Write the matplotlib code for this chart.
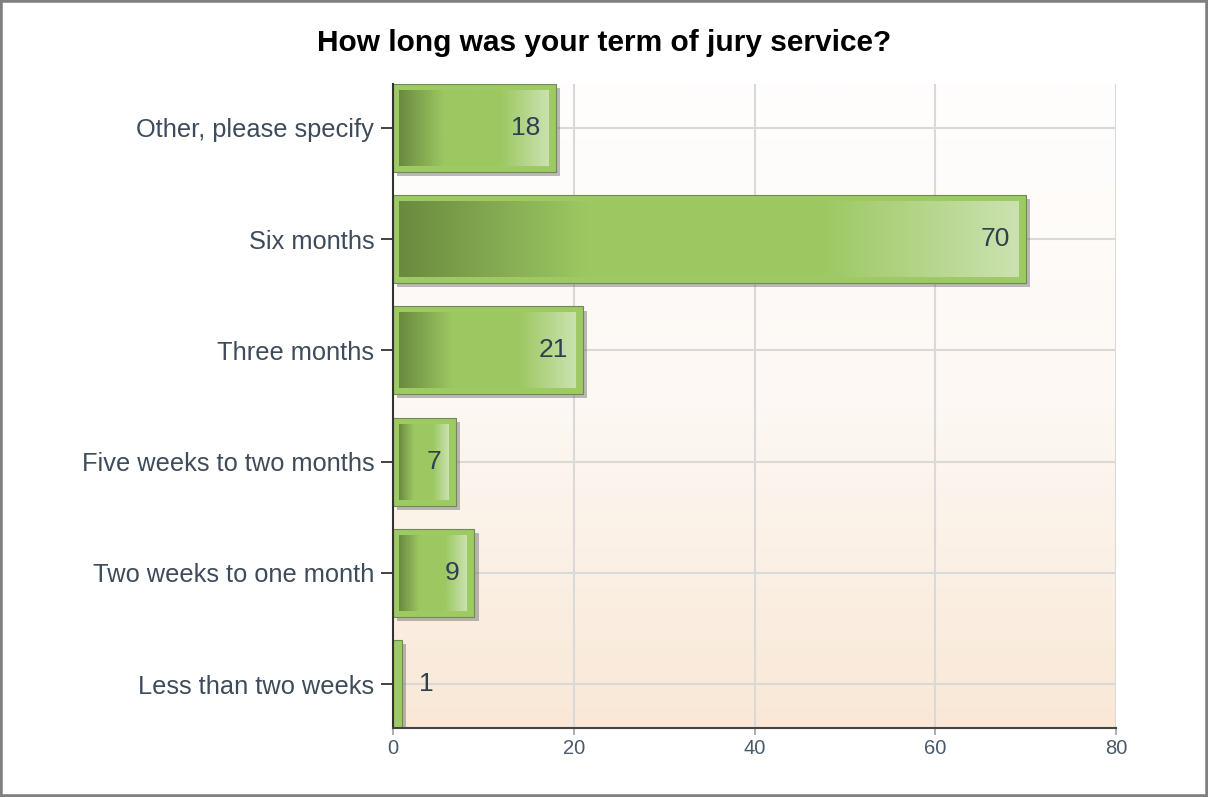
#!/usr/bin/env python3
"""Horizontal bar chart: length of jury service term."""

import matplotlib

matplotlib.use("Agg")
import matplotlib.pyplot as plt
import matplotlib.patheffects as pe
import numpy as np
from matplotlib.colors import LinearSegmentedColormap
from matplotlib.patches import Rectangle

categories = [
    "Less than two weeks",
    "Two weeks to one month",
    "Five weeks to two months",
    "Three months",
    "Six months",
    "Other, please specify",
]
counts = [1, 9, 7, 21, 70, 18]
x_ticks = [0, 20, 40, 60, 80]
title = "How long was your term of jury service?"

W, H, DPI = 1208, 797, 100
plt.rcParams["font.family"] = ["Liberation Sans", "DejaVu Sans"]

fig = plt.figure(figsize=(W / DPI, H / DPI), dpi=DPI)
fig.patch.set_facecolor("white")
L, R, T, B = 393, 1116, 84, 728
ax = fig.add_axes([L / W, 1 - B / H, (R - L) / W, (B - T) / H])

bar_h = 0.79
ypos = np.arange(len(categories))
ax.set_xlim(0, 80)
ax.set_ylim(-bar_h / 2, len(categories) - 1 + bar_h / 2)

# pixel -> data conversions
px_x = 80 / (R - L)
px_y = (len(categories) - 1 + bar_h) / (B - T)

# background gradient (white top -> peach bottom)
bg = LinearSegmentedColormap.from_list("bg", ["#f9e8d6", "#fdf8f3", "#fffefd"])
ax.imshow(np.linspace(0, 1, 256).reshape(-1, 1), cmap=bg, aspect="auto",
          extent=[0, 1, 0, 1], transform=ax.transAxes, origin="lower", zorder=0)

for xv in x_ticks[1:]:
    ax.axvline(xv, color="#d9d9d9", lw=1.5, zorder=1)
for yv in ypos:
    ax.axhline(yv, color="#d9d9d9", lw=1.5, zorder=1)

grad = LinearSegmentedColormap.from_list(
    "bar", [(0, "#6a8a3f"), (0.3, "#9cc862"), (0.68, "#9cc862"), (1, "#cbe2b0")]
)
gvals = np.linspace(0, 1, 256).reshape(1, -1)

for y, v in zip(ypos, counts):
    outer = Rectangle((0, y - bar_h / 2), v, bar_h, facecolor="#9dca63",
                      edgecolor="#6f8a52", lw=0.8, zorder=3)
    outer.set_path_effects([
        pe.SimplePatchShadow(offset=(3, -3), shadow_rgbFace="#777777", alpha=0.5),
        pe.Normal(),
    ])
    ax.add_patch(outer)
    x0, x1 = 6 * px_x, v - 7.5 * px_x
    if x1 - x0 > 4 * px_x:
        ax.imshow(gvals, cmap=grad, aspect="auto", interpolation="bilinear",
                  extent=[x0, x1, y - bar_h / 2 + 6 * px_y, y + bar_h / 2 - 6 * px_y],
                  zorder=4)
    if v / px_x > 40:
        ax.annotate(str(v), (v, y), xytext=(-11, 0), textcoords="offset points",
                    ha="right", va="center", fontsize=19, color="#2f3f4f", zorder=5)
    else:
        ax.annotate(str(v), (v, y), xytext=(12, 0), textcoords="offset points",
                    ha="left", va="center", fontsize=19, color="#2f3f4f", zorder=5)

ax.set_yticks(ypos)
ax.set_yticklabels(categories, fontsize=18.3, color="#3d4b5a")
ax.set_xticks(x_ticks)
ax.set_xticklabels([str(t) for t in x_ticks], fontsize=14.5, color="#4a5a6c")
ax.tick_params(axis="y", length=9, width=1.2, color="#222222", pad=4.5)
ax.tick_params(axis="x", length=5, width=1.2, color="#a0a0a0", pad=3)
for s in ("top", "right"):
    ax.spines[s].set_visible(False)
ax.spines["left"].set_color("#333333")
ax.spines["left"].set_linewidth(1.5)
ax.spines["bottom"].set_color("#444444")
ax.spines["bottom"].set_linewidth(1.5)
ax.spines["left"].set_zorder(6)
ax.spines["bottom"].set_zorder(6)

fig.text(0.5, 1 - 43 / H, title, ha="center", va="center", fontsize=21.5,
         fontweight="bold", color="#000000")

# outer frame
fig.patches.append(Rectangle((0, 0), 1, 1, transform=fig.transFigure, fill=False,
                             edgecolor="#808080", lw=4, zorder=10))

fig.savefig("out.png", dpi=DPI)
